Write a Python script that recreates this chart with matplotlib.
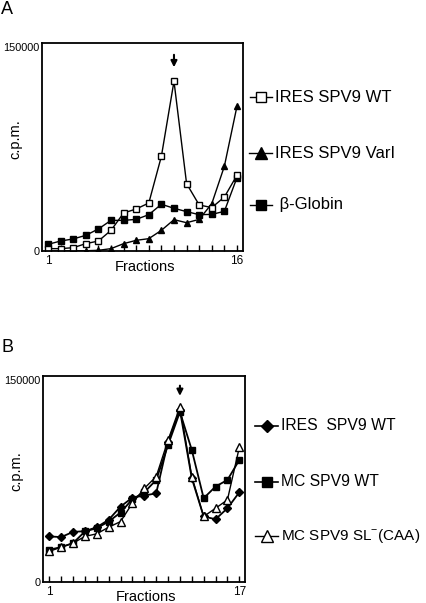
import numpy as np
import matplotlib
matplotlib.use('Agg')
from matplotlib import pyplot as plt

plt.rcParams['font.family'] = ['Liberation Sans', 'DejaVu Sans']
plt.rcParams['mathtext.fontset'] = 'custom'
plt.rcParams['mathtext.rm'] = 'Liberation Sans'

# panel A: fractions 1..16
fracA = np.arange(1, 17)
iresWtA = [1700, 1700, 2400, 5300, 7200, 14900, 27400, 30300, 34600, 68300,
           122400, 48600, 33200, 31300, 38900, 54600]
iresVarI = [0, 0, 200, 200, 500, 1700, 5300, 7700, 8900, 14900,
            22600, 20400, 22800, 34100, 61100, 104300]
betaGlobin = [4800, 7200, 8700, 11300, 15900, 22100, 22100, 22800, 26200, 33700,
              30800, 28400, 26200, 26400, 28600, 52900]
labelsA = ['IRES SPV9 WT', 'IRES SPV9 VarI', 'β-Globin']
arrowA = 11

# panel B: fractions 1..17
fracB = np.arange(1, 18)
iresWtB = [33200, 32700, 36500, 37000, 39900, 45300, 54900, 61500, 62900, 64600,
           102100, 125100, 75500, 47700, 45700, 53700, 65300]
mcWt = [23500, 25400, 28300, 36800, 39200, 44000, 50600, 60300, 65300, 74300,
        99700, 123900, 96100, 61000, 69500, 74300, 88800]
mcSl = [22300, 25400, 28300, 33200, 35100, 39900, 44000, 57400, 68200, 76700,
        103300, 127500, 76700, 47700, 53700, 59800, 98000]
labelsB = ['IRES  SPV9 WT', 'MC SPV9 WT', 'MC SPV9 SL$^{-}$(CAA)']
arrowB = 12

ymax = 150000

fig = plt.figure(figsize=(4.26, 6.03), dpi=100)
W, H = 426.0, 603.0

def px(x0, y0, x1, y1):
    # pixel box -> figure fraction rect
    return [x0 / W, 1 - y1 / H, (x1 - x0) / W, (y1 - y0) / H]

def setup(ax, frac, xlim):
    ax.set_xlim(*xlim)
    ax.set_ylim(0, ymax)
    for s in ax.spines.values():
        s.set_linewidth(1.3)
    ax.set_xticks(frac)
    ax.set_xticklabels([str(f) if f in (frac[0], frac[-1]) else '' for f in frac])
    ax.tick_params(axis='x', direction='in', length=4, width=1, pad=3, labelsize=8.5)
    ax.set_yticks([0, ymax])
    ax.set_yticklabels(['0', str(ymax)])
    ax.tick_params(axis='y', length=0, pad=2, labelsize=7.8)
    ax.get_yticklabels()[1].set_va('top')
    ax.text(0.51, -0.075, 'Fractions', transform=ax.transAxes, ha='center', va='center', fontsize=10.5)
    ax.text(-0.134, 0.54, 'c.p.m.', transform=ax.transAxes, ha='center', va='center',
            rotation=90, fontsize=10.5)

def legend_entry(y, xl0, xl1, text, lw, fs, **mk):
    fig.add_artist(plt.Line2D([xl0 / W, xl1 / W], [1 - y / H, 1 - y / H], color='black', lw=lw))
    fig.add_artist(plt.Line2D([(xl0 + xl1) / 2 / W], [1 - y / H], color='black', lw=0, **mk))
    fig.text((xl1 + 3) / W, 1 - y / H, text, ha='left', va='center', fontsize=fs)

# ---- panel A
axA = fig.add_axes(px(42, 43, 243, 251))
setup(axA, fracA, (0.52, 16.48))
axA.plot(fracA, betaGlobin, color='black', lw=1, marker='s', ms=4.5, mfc='black', mec='black')
axA.plot(fracA, iresVarI, color='black', lw=1, marker='^', ms=5, mfc='black', mec='black')
axA.plot(fracA, iresWtA, color='black', lw=1, marker='s', ms=4.5, mfc='white', mec='black', mew=1)
axA.annotate('', xy=(arrowA, 130500), xytext=(arrowA, 143500),
             arrowprops=dict(arrowstyle='-|>', color='black', lw=1.5, mutation_scale=9))
fig.text(7 / W, 1 - 10 / H, 'A', ha='center', va='center', fontsize=13)

legend_entry(97, 250, 272, labelsA[0], 1, 12, marker='s', ms=7, mfc='white', mec='black', mew=1)
legend_entry(153, 249, 272, labelsA[1], 1, 12, marker='^', ms=8, mfc='black', mec='black')
legend_entry(205, 250, 272, ' ' + labelsA[2], 1, 12, marker='s', ms=7, mfc='black', mec='black')

# ---- panel B
axB = fig.add_axes(px(43, 376, 245, 582))
setup(axB, fracB, (0.47, 17.48))
axB.plot(fracB, iresWtB, color='black', lw=1.3, marker='D', ms=4.5, mfc='black', mec='black')
axB.plot(fracB, mcWt, color='black', lw=1.3, marker='s', ms=5, mfc='black', mec='black')
axB.plot(fracB, mcSl, color='black', lw=1.0, marker='^', ms=5.5, mfc='white', mec='black', mew=1)
axB.annotate('', xy=(arrowB, 133500), xytext=(arrowB, 145000),
             arrowprops=dict(arrowstyle='-|>', color='black', lw=1.5, mutation_scale=9))
fig.text(7 / W, 1 - 347 / H, 'B', ha='center', va='center', fontsize=13)

legend_entry(426, 255, 278, labelsB[0], 1.2, 11.3, marker='D', ms=6.5, mfc='black', mec='black')
legend_entry(482, 255, 278, labelsB[1], 1.2, 11.3, marker='s', ms=7.5, mfc='black', mec='black')
legend_entry(536, 255, 278, labelsB[2], 1.0, 11.0, marker='^', ms=8, mfc='white', mec='black', mew=1)

fig.savefig('out.png', dpi=100)
